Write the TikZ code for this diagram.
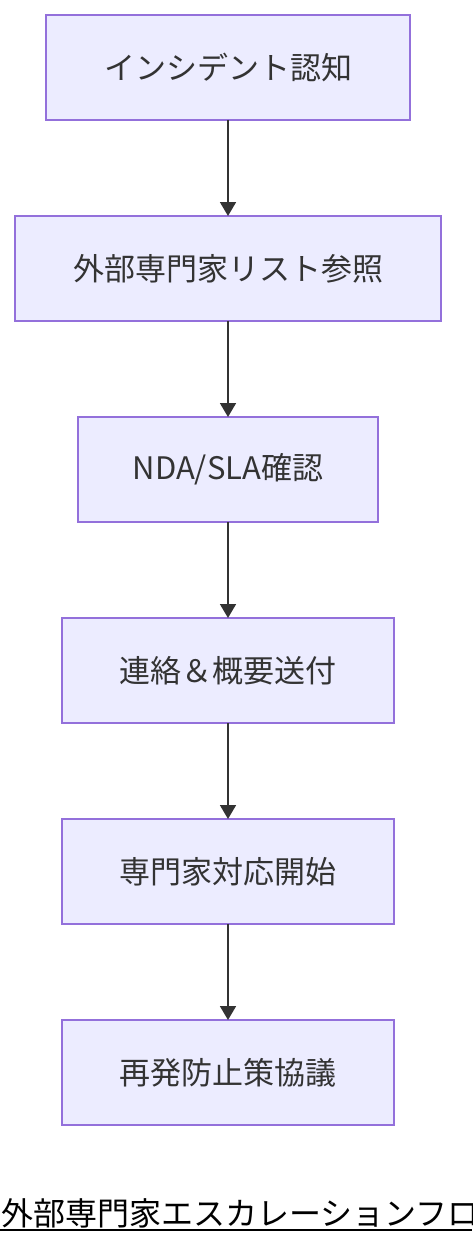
\documentclass[tikz,border=0pt]{standalone}
\usepackage{fontspec}
\setmainfont{Noto Sans CJK JP}
\usepackage{xcolor}
\usetikzlibrary{positioning,arrows.meta}

\definecolor{boxfill}{HTML}{ECECFF}
\definecolor{boxline}{HTML}{9370DB}
\definecolor{edgeline}{HTML}{333333}

\begin{document}
\begin{tikzpicture}
		[x=1pt,y=-1pt,
		stepbox/.style={rectangle,draw=boxline,fill=boxfill,line width=1.8pt,inner sep=0pt,outer sep=0pt,minimum height=105pt,text=edgeline,font=\fontsize{31}{37}\selectfont},
		flow/.style={draw=edgeline,line width=1.8pt,-{Triangle[width=16pt,length=14pt]}},
		caption/.style={inner sep=0pt,anchor=base west,font=\fontsize{32}{38}\selectfont}]
		\useasboundingbox (0,0) rectangle (472,1244);
		\clip (0,0) rectangle (472,1244);
		\node [stepbox,minimum width=364pt] (s1) at (228,67.5) {インシデント認知};
		\node [stepbox,minimum width=426pt] (s2) [below=96pt of s1] {外部専門家リスト参照};
		\node [stepbox,minimum width=300pt] (s3) [below=96pt of s2] {NDA/SLA確認};
		\node [stepbox,minimum width=332pt] (s4) [below=96pt of s3] {連絡＆概要送付};
		\node [stepbox,minimum width=332pt] (s5) [below=96pt of s4] {専門家対応開始};
		\node [stepbox,minimum width=332pt] (s6) [below=96pt of s5] {再発防止策協議};

		\draw [flow] (s1) -- (s2);
		\draw [flow] (s2) -- (s3);
		\draw [flow] (s3) -- (s4);
		\draw [flow] (s4) -- (s5);
		\draw [flow] (s5) -- (s6);

		\node [caption] (title) at (1,1225) {外部専門家エスカレーションフロー};
		\coordinate (ul) at (0,1230);
		\draw [line width=2pt] (ul) -- ++(472,0);
	\end{tikzpicture}
\end{document}
